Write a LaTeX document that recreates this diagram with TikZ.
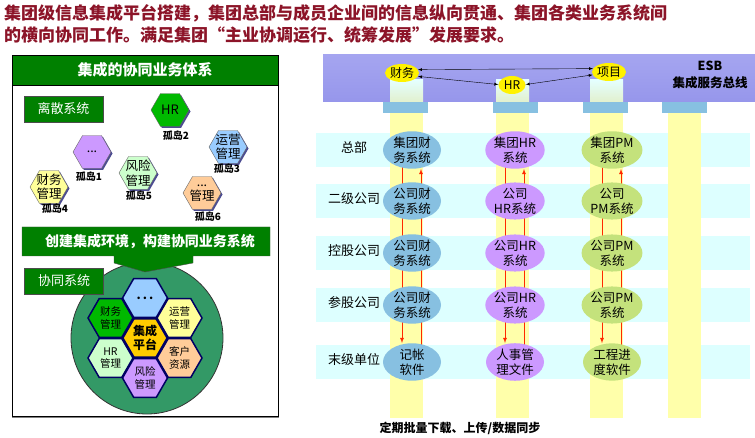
\documentclass[tikz,border=0pt]{standalone}
\usepackage{fontspec}
\setmainfont{Noto Sans CJK SC}
\usetikzlibrary{shapes.geometric,shadows}
\definecolor{titlered}{RGB}{140,20,40}
\definecolor{hdgreen}{RGB}{0,128,0}
\definecolor{hexgreen}{RGB}{0,185,0}
\definecolor{seagrn}{RGB}{51,153,102}
\definecolor{skyb}{RGB}{135,192,225}
\definecolor{lav}{RGB}{204,153,255}
\definecolor{lgreen}{RGB}{204,255,204}
\definecolor{lyellow}{RGB}{255,255,153}
\definecolor{peach}{RGB}{255,204,153}
\definecolor{lblue}{RGB}{153,204,255}
\definecolor{gold}{RGB}{255,204,0}
\definecolor{rowcyan}{RGB}{221,255,255}
\definecolor{strip}{RGB}{255,255,170}
\definecolor{pmgreen}{RGB}{196,226,124}
\definecolor{esbtop}{RGB}{165,165,240}
\definecolor{esbmid}{RGB}{228,255,255}
\definecolor{esbbot}{RGB}{150,150,235}
\definecolor{fadestrip}{RGB}{226,240,205}
\definecolor{navy}{RGB}{0,0,100}
\pgfdeclarelayer{bg}
\pgfsetlayers{bg,main}
\tikzset{
  gbox/.style={draw=black!70, fill=hdgreen, text=white, minimum width=79pt, minimum height=26pt, inner sep=0pt, font=\fontsize{13}{15}\selectfont},
  isle/.style={regular polygon, regular polygon sides=6, minimum size=38pt, inner sep=-5pt, draw=black!60, align=center,
    font=\fontsize{12.5}{14.5}\selectfont, drop shadow={shadow xshift=1.5pt, shadow yshift=-1.5pt, fill=navy!70, opacity=1}},
  isletag/.style={font=\fontsize{10}{12}\selectfont\bfseries, inner sep=0pt},
  comb/.style={regular polygon, regular polygon sides=6, minimum size=45pt, inner sep=-4pt, draw=navy, line width=1.5pt, align=center,
    font=\fontsize{10.5}{12.5}\selectfont},
  sys/.style={ellipse, minimum width=58pt, minimum height=37pt, inner sep=0pt, align=center, font=\fontsize{12.5}{15}\selectfont},
  busnode/.style={ellipse, fill=yellow, minimum width=27pt, minimum height=18pt, inner sep=0pt, font=\fontsize{12}{14}\selectfont},
  rowlab/.style={font=\fontsize{13}{15}\selectfont, inner sep=0pt},
  redln/.style={draw={rgb,255:red,255;green,40;blue,0}, line width=0.8pt}
}
\begin{document}
\begin{tikzpicture}[x=1pt, y=-1pt]
\useasboundingbox (0,0) rectangle (755,438);
\node[anchor=north west, inner sep=0pt, text=titlered, font=\fontsize{17}{20}\selectfont\bfseries] (t1) at (4,4) {集团级信息集成平台搭建，集团总部与成员企业间的信息纵向贯通、集团各类业务系统间};
\node[anchor=north west, inner sep=0pt, text=titlered, font=\fontsize{17}{20}\selectfont\bfseries] (t2) at (4,27) {的横向协同工作。满足集团“主业协调运行、统筹发展”发展要求。};

\draw[black!50, line width=2pt] (12,417) -- (279,417);
\draw[black, line width=0.6pt] (12,55) rectangle (278,416);
\draw[black, fill=hdgreen] (12,55) rectangle (278,85);
\node[text=white, font=\fontsize{15}{17}\selectfont\bfseries] (hd) at (145,70) {集成的协同业务体系};
\node[gbox] (disc) at (63.5,109) {离散系统};

\node[isle, fill=hexgreen, font=\fontsize{13}{15}\selectfont] (i2) at (170,110) {HR};
\node[isletag] (l2) at (176,136) {孤岛2};
\node[isle, fill=lav] (i1) at (92,152) {...};
\node[isletag] (l1) at (89,177) {孤岛1};
\node[isle, fill=lblue] (i3) at (228,147) {运营\\管理};
\node[isletag] (l3) at (227,169) {孤岛3};
\node[isle, fill=lgreen] (i5) at (138,173) {风险\\管理};
\node[isletag] (l5) at (139,196) {孤岛5};
\node[isle, fill=lyellow] (i4) at (49,187) {财务\\管理};
\node[isletag] (l4) at (55,209) {孤岛4};
\node[isle, fill=peach] (i6) at (202,193) {...\\管理};
\node[isletag] (l6) at (208,217) {孤岛6};

\draw[black!80, fill=seagrn, line width=0.8pt] (147,338) circle (76);
\node[comb, fill=gold, line width=2.2pt, font=\fontsize{12}{14}\selectfont\bfseries] (core) at (145,338) {集成\\平台};
\node[comb, fill=lblue, font=\fontsize{12}{14}\selectfont\bfseries] (cm) at (145,298) {.\,.\,.};
\node[comb, fill=hexgreen] (cf) at (110.5,318) {财务\\管理};
\node[comb, fill=lyellow] (co) at (179.5,318) {运营\\管理};
\node[comb, fill=lgreen] (ch) at (110.5,358) {HR\\管理};
\node[comb, fill=peach] (cc) at (179.5,358) {客户\\资源};
\node[comb, fill=lav] (cr) at (145,378) {风险\\管理};

\draw[black!70, fill=hdgreen] (22,227) -- (270,227) -- (270,256) -- (193,256) -- (193,263) -- (145,272)
  -- (114,263) -- (114,256) -- (22,256) -- cycle;
\node[text=white, font=\fontsize{14}{16}\selectfont\bfseries] (bn) at (150,241) {创建集成环境，构建协同业务系统};
\node[gbox] (coop) at (64,281) {协同系统};

\fill[top color=esbtop, middle color=esbmid, bottom color=esbbot] (323,55) rectangle (755,102);
\foreach \x in {390,496,590}
  \fill[top color=esbmid, bottom color=fadestrip] (\x,80) rectangle ++(33,22);
\node[busnode] (bf) at (402,73) {财务};
\node[busnode] (bh) at (512,85) {HR};
\node[busnode] (bp) at (609,72) {项目};
\draw[latex-latex, thin] (bf.12) -- (bp.168);
\draw[latex-latex, thin] (bf.-12) -- (bh.178);
\draw[latex-latex, thin] (bh.2) -- (bp.-170);
\node[align=center, font=\fontsize{12.5}{17}\selectfont\bfseries] (esb) at (710,75) {ESB\\集成服务总线};

\begin{pgfonlayer}{bg}
\foreach \y in {150,201,253,305,362}
  \fill[rowcyan] (316,\y-17) rectangle (750,\y+17);
\foreach \x in {390,496,590,668}
  \fill[strip] (\x,113) rectangle ++(33,305);
\end{pgfonlayer}
\foreach \x in {383,493,583,662}
  \fill[skyb] (\x,102) rectangle ++(45,11);

\foreach \y/\lab [count=\i] in {150/总部, 201/二级公司, 253/控股公司, 305/参股公司, 362/末级单位}
  \node[rowlab] (r\i) at (354,\y-2) {\lab};

\node[sys, fill=skyb] (f1) at (412,150) {集团财\\务系统};
\node[sys, fill=skyb] (f2) at (412,201) {公司财\\务系统};
\node[sys, fill=skyb] (f3) at (412,253) {公司财\\务系统};
\node[sys, fill=skyb] (f4) at (412,305) {公司财\\务系统};
\node[sys, fill=skyb] (f5) at (412,362) {记帐\\软件};
\node[sys, fill=lav] (h1) at (515,150) {集团HR\\系统};
\node[sys, fill=lav] (h2) at (515,201) {公司\\HR系统};
\node[sys, fill=lav] (h3) at (515,253) {公司HR\\系统};
\node[sys, fill=lav] (h4) at (515,305) {公司HR\\系统};
\node[sys, fill=lav] (h5) at (515,362) {人事管\\理文件};
\node[sys, fill=pmgreen] (p1) at (612,150) {集团PM\\系统};
\node[sys, fill=pmgreen] (p2) at (612,201) {公司\\PM系统};
\node[sys, fill=pmgreen] (p3) at (612,253) {公司PM\\系统};
\node[sys, fill=pmgreen] (p4) at (612,305) {公司PM\\系统};
\node[sys, fill=pmgreen] (p5) at (612,362) {工程进\\度软件};

\begin{pgfonlayer}{bg}
\foreach \c in {f,h,p}{
  \draw[redln, -latex] ([xshift=-10pt]\c1.center) -- ([xshift=-10pt]\c5.north);
  \draw[redln, -latex] ([xshift=9pt]\c5.center) -- ([xshift=9pt]\c1.south);
}
\end{pgfonlayer}

\node[font=\fontsize{12}{14}\selectfont\bfseries] (cap) at (460,428) {定期批量下载、上传/数据同步};
\end{tikzpicture}
\end{document}
